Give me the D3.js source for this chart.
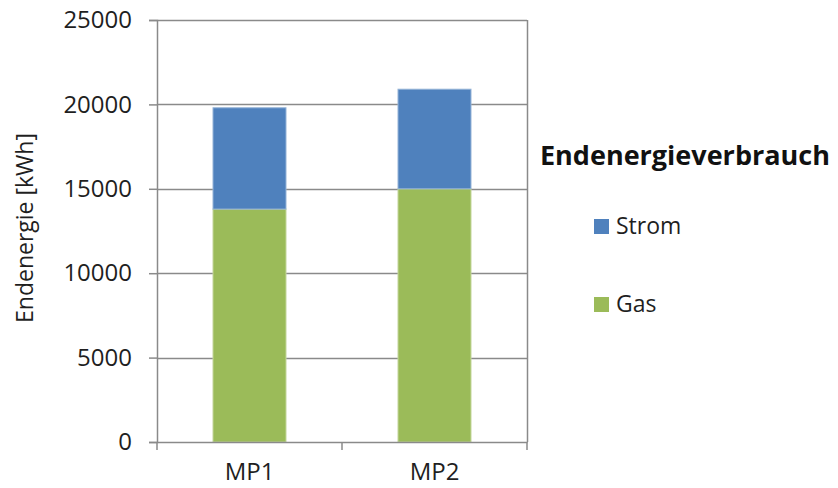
<!DOCTYPE html>
<html>
<head>
<meta charset="utf-8">
<script src="https://cdn.jsdelivr.net/npm/d3@7"></script>
<style>
  html, body { margin: 0; padding: 0; background: #fff; }
  svg { display: block; font-family: "Open Sans", "Noto Sans", sans-serif; }
</style>
</head>
<body>
<svg id="chart" width="838" height="488"></svg>
<script>
// Endenergieverbrauch je Messpunkt, gestapelt nach Energieträger
const categories = ["MP1", "MP2"];
const seriesNames = ["Gas", "Strom"];
const gasValues = [13800, 15000];
const stromValues = [6000, 5900];
const yTicks = [0, 5000, 10000, 15000, 20000, 25000];
const colors = { Gas: "#9BBB59", Strom: "#4F81BD" };
const borders = { Gas: "#C3D69B", Strom: "#95B3D7" };

const svg = d3.select("#chart");
const plot = { left: 157, right: 527, top: 20, bottom: 442 };
const textColor = "#1f1f1f";
const fontW = 400;

const rows = categories.map((c, i) => ({ cat: c, Gas: gasValues[i], Strom: stromValues[i] }));
const stacked = d3.stack().keys(seriesNames)(rows);

const x = d3.scaleBand().domain(categories).range([plot.left, plot.right]).paddingInner(0.6).paddingOuter(0.3);
const y = d3.scaleLinear().domain([0, 25000]).range([plot.bottom, plot.top]);

const gridColor = "#8a8a8a";

// Horizontal gridlines
svg.append("g").selectAll("line").data(yTicks.filter(t => t > 0)).join("line")
  .attr("x1", plot.left).attr("x2", plot.right)
  .attr("y1", d => Math.round(y(d)) + 0.5).attr("y2", d => Math.round(y(d)) + 0.5)
  .attr("stroke", gridColor).attr("stroke-width", 1.5);

// Right border of the plot area
svg.append("line")
  .attr("x1", plot.right + 0.5).attr("x2", plot.right + 0.5)
  .attr("y1", plot.top).attr("y2", plot.bottom)
  .attr("stroke", gridColor).attr("stroke-width", 1.5);

// Stacked bars
svg.append("g").selectAll("g").data(stacked).join("g")
  .attr("fill", d => colors[d.key])
  .attr("stroke", d => borders[d.key])
  .attr("stroke-width", 1)
  .selectAll("rect").data(d => d).join("rect")
  .attr("x", d => x(d.data.cat) + 0.5)
  .attr("width", x.bandwidth() - 1)
  .attr("y", d => y(d[1]))
  .attr("height", d => y(d[0]) - y(d[1]));

// Y axis
const yAxis = d3.axisLeft(y).tickValues(yTicks).tickSize(8).tickPadding(17).tickFormat(d3.format("d"));
const gy = svg.append("g").attr("transform", `translate(${plot.left},0)`).call(yAxis);
gy.select(".domain").attr("stroke", gridColor).attr("stroke-width", 1.5);
gy.selectAll(".tick line").attr("stroke", gridColor).attr("stroke-width", 1.5);
gy.selectAll(".tick text").attr("font-size", 24).attr("font-weight", fontW).attr("fill", textColor).attr("font-family", "Open Sans, sans-serif");

// X axis
const gx = svg.append("g").attr("transform", `translate(0,${plot.bottom})`)
  .call(d3.axisBottom(x).tickSize(0).tickPadding(21));
gx.select(".domain").attr("stroke", gridColor).attr("stroke-width", 1.5);
gx.selectAll(".tick text").attr("font-size", 24).attr("font-weight", fontW).attr("fill", textColor).attr("font-family", "Open Sans, sans-serif");

// Category divider ticks on the x axis
const dividers = d3.range(categories.length + 1).map(i => plot.left + (plot.right - plot.left) * i / categories.length);
svg.append("g").selectAll("line").data(dividers).join("line")
  .attr("x1", d => d).attr("x2", d => d)
  .attr("y1", plot.bottom).attr("y2", plot.bottom + 8)
  .attr("stroke", gridColor).attr("stroke-width", 1.5);

// Y axis title
svg.append("text")
  .attr("transform", `translate(33,228) rotate(-90)`)
  .attr("text-anchor", "middle")
  .attr("font-size", 23).attr("font-weight", fontW).attr("fill", textColor)
  .text("Endenergie [kWh]");

// Legend
const legend = svg.append("g");
legend.append("text")
  .attr("x", 540).attr("y", 165)
  .attr("font-size", 27).attr("font-weight", "bold").attr("fill", "#111")
  .text("Endenergieverbrauch");

const legendItems = ["Strom", "Gas"];
const legendY = [219, 297];
legendItems.forEach((name, i) => {
  legend.append("rect")
    .attr("x", 594).attr("y", legendY[i])
    .attr("width", 15).attr("height", 15)
    .attr("fill", colors[name]);
  legend.append("text")
    .attr("x", 616).attr("y", legendY[i] + 15)
    .attr("font-size", 23).attr("font-weight", fontW).attr("fill", textColor)
    .text(name);
});
</script>
</body>
</html>
